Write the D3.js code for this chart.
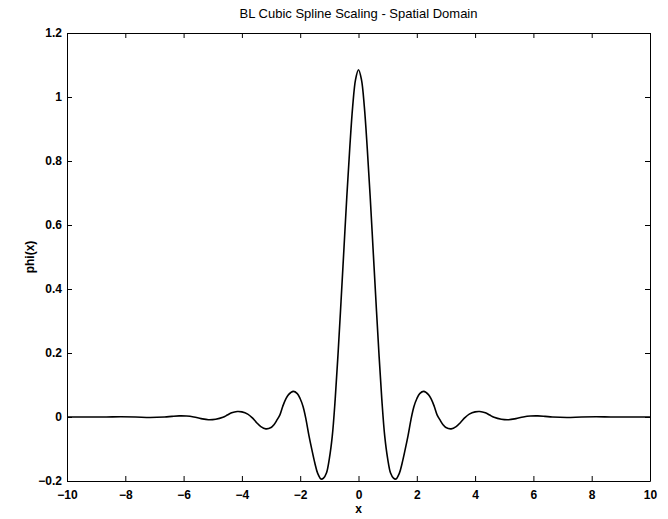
<!DOCTYPE html>
<html>
<head>
<meta charset="utf-8">
<script src="https://cdn.jsdelivr.net/npm/d3@7"></script>
<style>
  body { margin: 0; background: #fff; }
  svg { display: block; font-family: "Liberation Sans", Arial, Helvetica, sans-serif; }
  .axis text { font-size: 12px; font-weight: bold; fill: #000; }
  .axis line, .axis path { stroke: #000; }
</style>
</head>
<body>
<script>
var width = 668,
    height = 519,
    margin = {top: 33, right: 18, bottom: 38, left: 67};

// values (x, phi(x))
var xs = [-10, -9.15, -8.65, -8.15, -7.65, -7.15, -6.65, -6.4, -6.15, -5.9, -5.65, -5.4, -5.15, -4.9, -4.65, -4.5, -4.35, -4.16, -4.0, -3.8, -3.65, -3.5, -3.35, -3.18, -3.0, -2.9, -2.8, -2.7, -2.6, -2.5, -2.4, -2.24, -2.1, -2.0, -1.9, -1.8, -1.7, -1.6, -1.5, -1.4, -1.28, -1.2, -1.1, -1.0, -0.9, -0.8, -0.7, -0.6, -0.5, -0.4, -0.3, -0.2, -0.1, 0,
          0.1, 0.2, 0.3, 0.4, 0.5, 0.6, 0.7, 0.8, 0.9, 1.0, 1.1, 1.2, 1.28, 1.4, 1.5, 1.6, 1.7, 1.8, 1.9, 2.0, 2.1, 2.24, 2.4, 2.5, 2.6, 2.7, 2.8, 2.9, 3.0, 3.18, 3.35, 3.5, 3.65, 3.8, 4.0, 4.16, 4.35, 4.5, 4.65, 4.9, 5.15, 5.4, 5.65, 5.9, 6.15, 6.4, 6.65, 7.15, 7.65, 8.15, 8.65, 9.15, 10];
var phi = [0, -0.0002, 0, 0.0006, 0, -0.0015, 0, 0.002, 0.0035, 0.003, 0, -0.005, -0.0085, -0.007, -0.001, 0.006, 0.013, 0.017, 0.016, 0.009, -0.002, -0.017, -0.03, -0.037, -0.033, -0.024, -0.01, 0.006, 0.033, 0.055, 0.07, 0.08, 0.073, 0.057, 0.032, -0.008, -0.058, -0.102, -0.143, -0.176, -0.194, -0.191, -0.175, -0.13, -0.06, 0.055, 0.2, 0.36, 0.525, 0.69, 0.84, 0.97, 1.055, 1.085,
           1.055, 0.97, 0.84, 0.69, 0.525, 0.36, 0.2, 0.055, -0.06, -0.13, -0.175, -0.191, -0.194, -0.176, -0.143, -0.102, -0.058, -0.008, 0.032, 0.057, 0.073, 0.08, 0.07, 0.055, 0.033, 0.006, -0.01, -0.024, -0.033, -0.037, -0.03, -0.017, -0.002, 0.009, 0.016, 0.017, 0.013, 0.006, -0.001, -0.007, -0.0085, -0.005, 0, 0.003, 0.0035, 0.002, 0, -0.0015, 0, 0.0006, 0, -0.0002, 0];

var xTicks = [-10, -8, -6, -4, -2, 0, 2, 4, 6, 8, 10];
var yTicks = [-0.2, 0, 0.2, 0.4, 0.6, 0.8, 1, 1.2];

var title = "BL Cubic Spline Scaling - Spatial Domain",
    xLabel = "x",
    yLabel = "phi(x)";

var svg = d3.select("body")
  .append("svg")
  .attr("width", width)
  .attr("height", height);

var x = d3.scaleLinear()
  .domain([-10, 10])
  .range([margin.left, width - margin.right]);

var y = d3.scaleLinear()
  .domain([-0.2, 1.2])
  .range([height - margin.bottom, margin.top]);

var fmt = d3.format("~g");

// inward ticks on all four sides, matlab style
svg.append("g")
  .attr("class", "axis")
  .attr("transform", "translate(0," + y(-0.2) + ")")
  .call(d3.axisBottom(x).tickValues(xTicks).tickFormat(fmt).tickSizeInner(-5).tickSizeOuter(0).tickPadding(9));

svg.append("g")
  .attr("class", "axis")
  .attr("transform", "translate(0," + y(1.2) + ")")
  .call(d3.axisTop(x).tickValues(xTicks).tickFormat("").tickSizeInner(-5).tickSizeOuter(0));

svg.append("g")
  .attr("class", "axis")
  .attr("transform", "translate(" + x(-10) + ",0)")
  .call(d3.axisLeft(y).tickValues(yTicks).tickFormat(fmt).tickSizeInner(-5).tickSizeOuter(0).tickPadding(5));

svg.append("g")
  .attr("class", "axis")
  .attr("transform", "translate(" + x(10) + ",0)")
  .call(d3.axisRight(y).tickValues(yTicks).tickFormat("").tickSizeInner(-5).tickSizeOuter(0));

var line = d3.line()
  .x(function(d) { return x(d[0]); })
  .y(function(d) { return y(d[1]); })
  .curve(d3.curveCatmullRom.alpha(0.5));

svg.append("path")
  .datum(d3.zip(xs, phi))
  .attr("fill", "none")
  .attr("stroke", "#000")
  .attr("stroke-width", 1.6)
  .attr("d", line);

svg.append("text")
  .attr("x", (x(-10) + x(10)) / 2)
  .attr("y", 18)
  .attr("text-anchor", "middle")
  .style("font-size", "13px")
  .text(title);

svg.append("text")
  .attr("x", (x(-10) + x(10)) / 2)
  .attr("y", 513)
  .attr("text-anchor", "middle")
  .style("font-size", "12px")
  .style("font-weight", "bold")
  .text(xLabel);

svg.append("text")
  .attr("transform", "translate(34," + (y(-0.2) + y(1.2)) / 2 + ") rotate(-90)")
  .attr("text-anchor", "middle")
  .style("font-size", "12px")
  .style("font-weight", "bold")
  .text(yLabel);
</script>
</body>
</html>
